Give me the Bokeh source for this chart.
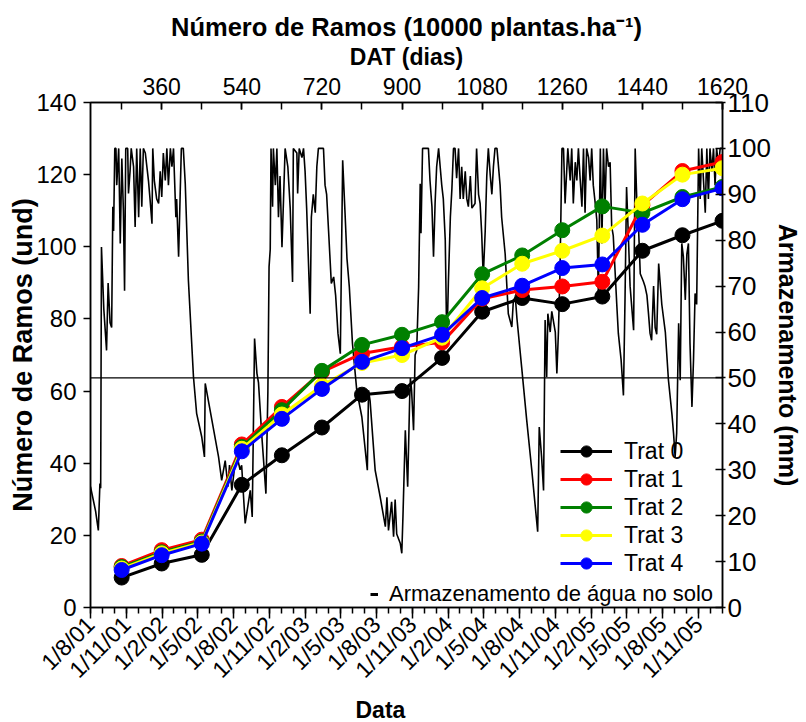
import math
from datetime import date

from bokeh.plotting import figure
from bokeh.models import Range1d, LinearAxis, FixedTicker, Span, Legend, LegendItem, Title
from bokeh.embed import file_html
from bokeh.resources import INLINE

FONTE = "Liberation Sans"

# Avaliações do número de ramos: dias após o transplantio (DAT)
dat = [270, 360, 450, 540, 630, 720, 810, 900, 990, 1080, 1170, 1260, 1350, 1440, 1530, 1620]

trat0 = [8.3, 12.2, 14.6, 34.0, 42.2, 49.9, 59.0, 60.0, 69.2, 82.0, 85.8, 84.1, 86.2, 98.9, 103.2, 107.2]
trat1 = [11.5, 15.9, 18.8, 45.2, 55.6, 65.3, 70.4, 72.3, 73.5, 85.6, 88.0, 89.0, 90.3, 111.5, 121.0, 123.5]
trat2 = [11.2, 15.3, 18.3, 44.5, 54.7, 65.6, 72.8, 75.6, 79.1, 92.4, 97.6, 104.6, 111.2, 109.4, 113.8, 116.6]
trat3 = [10.8, 15.0, 18.0, 44.0, 53.5, 61.5, 67.8, 70.0, 74.8, 88.5, 95.3, 98.9, 103.1, 112.0, 120.0, 121.8]
trat4 = [10.4, 14.5, 17.7, 43.3, 52.3, 60.6, 68.1, 71.9, 75.6, 85.8, 89.2, 94.1, 95.1, 106.1, 113.2, 116.2]

series = [
    ("Trat 0", trat0, "black"),
    ("Trat 1", trat1, "red"),
    ("Trat 2", trat2, "green"),
    ("Trat 3", trat3, "yellow"),
    ("Trat 4", trat4, "blue"),
]

# Armazenamento de água no solo: dias desde 01/08/2001 e lâmina armazenada (mm)
arm_dia = [
    0, 13, 20, 24, 26, 28, 34, 41, 45, 50, 54, 57, 59, 62, 65, 67, 72, 76, 80, 84,
    87, 90, 95, 97, 101, 104, 110, 114, 118, 123, 127, 131, 135, 140, 148, 152, 157, 159, 163, 169,
    174, 178, 182, 186, 191, 195, 199, 204, 208, 212, 218, 220, 225, 229, 232, 237, 242, 250, 263, 271,
    284, 291, 293, 310, 327, 335, 344, 351, 355, 361, 370, 374, 382, 386, 395, 408,
    413, 419, 425, 429, 437, 448, 453, 456, 459, 461, 465, 467, 472, 476, 480, 484, 489, 493, 497, 504,
    510, 516, 518, 527, 529, 533, 540, 544, 548, 552, 561, 564, 569, 574, 578, 582, 591, 595, 599, 603,
    608, 615, 621, 626, 632, 638, 644, 650, 655, 661, 669, 680, 693, 707, 710, 714, 727, 740, 753, 757,
    761, 769, 774, 778, 782, 791, 795, 798, 804, 810, 815, 817,
    820, 825, 829, 833, 838, 842, 844, 848, 863, 867, 872, 876, 880, 884, 889, 893, 897, 901, 906, 910,
    914, 919, 923, 927, 931, 935, 940, 944, 948, 952, 957, 961, 965, 970, 974, 982, 986, 991, 995, 999,
    1003, 1008, 1012, 1016, 1021, 1025, 1029, 1033, 1038, 1046, 1050, 1059, 1067, 1076, 1080, 1085, 1089, 1101, 1114, 1127,
    1142, 1146, 1152, 1157, 1161, 1165, 1168, 1174, 1178, 1187, 1191, 1195, 1199, 1204, 1208, 1212, 1219,
    1225, 1229, 1233, 1238, 1242, 1246, 1250, 1255, 1259, 1263, 1267, 1272, 1276, 1280, 1284, 1289, 1293, 1297, 1302, 1306,
    1310, 1314, 1318, 1323, 1327, 1331, 1335, 1340, 1344, 1348, 1355, 1361, 1365, 1369, 1374, 1378, 1387, 1391, 1395, 1399,
    1404, 1412, 1416, 1421, 1425, 1429, 1433, 1438, 1442, 1446, 1451, 1459, 1468, 1476, 1485, 1489, 1493, 1497, 1502, 1506,
    1510, 1514, 1519, 1523, 1527, 1531, 1536, 1540, 1544, 1548, 1553, 1557, 1561, 1570, 1574, 1578, 1582, 1587, 1591, 1595,
    1599, 1604, 1608, 1614,
]
arm_mm = [
    26.3, 21, 16.8, 27, 26, 78.5, 65, 56, 70.7, 62, 61, 87.3, 82, 100, 100, 92, 100, 79.3, 97.8, 86.5,
    69, 100, 100, 90.2, 95, 100, 96, 82.9, 100, 85, 100, 87.3, 100, 99, 93, 89, 83.6, 100, 93, 89,
    88, 95, 89.4, 99, 93, 100, 92, 100, 96, 100, 85, 89, 76.4, 90, 100, 100, 92.3, 71.3, 50.2, 42.3,
    37.2, 32.8, 48.8, 40.8, 32.8, 27.7, 32, 26.3, 31, 25.5, 32, 33, 30, 31, 18.3, 25.5,
    19.7, 58.6, 51, 49, 38, 24.8, 47, 74.2, 78, 100, 87.3, 100, 92, 100, 85, 94, 78.5, 89, 100, 96,
    87, 70.9, 100, 99, 90.2, 100, 98, 100, 95, 87, 64, 85, 90, 86, 96, 100, 100, 100, 92, 90,
    82, 70.6, 72, 68, 59.7, 55.3, 97.4, 86, 76, 69.8, 57.5, 47.3, 41.5, 29.9, 47.3, 45, 29.9, 24, 17.6, 24,
    16.8, 23, 15.4, 23.5, 16, 14, 11.8, 20, 38.6, 26.3, 45.2, 50,
    47.3, 38.6, 55, 56, 69.8, 92.3, 81.5, 100, 100, 93, 87.3, 76.4, 88, 96, 100, 96, 92, 89, 80, 56.8,
    71, 85, 91.3, 100, 100, 93.5, 100, 89, 96, 89, 95, 89, 87.3, 94, 87, 88, 100, 90, 88, 81.5,
    72, 82, 94, 100, 94, 90, 96, 100, 100, 92, 85, 77, 64, 61.1, 67, 67.5, 63, 52.4, 40.8, 29.9,
    16.5, 39.3, 32.8, 25.5, 62.6, 50.2, 64, 60, 64.5, 60, 51, 60, 73, 100, 100, 88, 100,
    93, 100, 88, 97, 93, 100, 94, 87.3, 100, 86, 100, 98, 93, 100, 92, 88, 84.4, 68.4, 100, 79.3,
    100, 87.3, 100, 96, 97, 83, 81, 72.7, 66, 59.7, 54, 46.2, 66.9, 91.6, 80, 70, 60.4, 100, 89, 84,
    72.7, 71, 70, 68, 64, 59.7, 58.2, 70, 61, 59.5, 74.9, 66, 60, 49.5, 42, 37.9, 32.8, 38, 61.9, 49.5,
    79.3, 76.5, 67, 77, 79.3, 57.5, 43.7, 54, 68.4, 66, 100, 89, 100, 86, 100, 89, 100, 95, 100, 92,
    100, 96, 100, 100,
]

# Nível de referência do armazenamento (mm)
arm_referencia = 50

# Rótulos do eixo de datas (a cada três meses)
rotulos_data = ["1/8/01", "1/11/01", "1/2/02", "1/5/02", "1/8/02", "1/11/02", "1/2/03", "1/5/03",
                "1/8/03", "1/11/03", "1/2/04", "1/5/04", "1/8/04", "1/11/04", "1/2/05", "1/5/05",
                "1/8/05", "1/11/05"]

inicio = date(2001, 8, 1)
fim = date(2006, 1, 1)


def dias(d):
    return (d - inicio).days


def parse_rotulo(txt):
    d, m, a = (int(v) for v in txt.split("/"))
    return date(2000 + a, m, d)


meses = []
ano, mes = inicio.year, inicio.month
while date(ano, mes, 1) <= fim:
    meses.append(dias(date(ano, mes, 1)))
    mes += 1
    if mes > 12:
        mes, ano = 1, ano + 1

ticks_data = [dias(parse_rotulo(t)) for t in rotulos_data]

p = figure(
    width=806, height=722,
    output_backend="svg", toolbar_location=None,
    x_range=Range1d(0, dias(fim)), y_range=Range1d(0, 140),
    min_border_left=90, min_border_right=84, min_border_top=102, min_border_bottom=115,
    background_fill_color="white", border_fill_color="white",
)
p.outline_line_color = "black"
p.outline_line_width = 1.5
p.xgrid.visible = False
p.ygrid.visible = False

p.extra_x_ranges = {"dat": Range1d(200, 1620)}
p.extra_y_ranges = {"arm": Range1d(0, 110)}

p.title.text = "Número de Ramos (10000 plantas.ha⁻¹)"
p.title.align = "center"
p.title.text_font = FONTE
p.title.text_font_size = "25.5px"
p.title.text_font_style = "bold"
p.title.text_color = "black"
p.title.standoff = 0

# Eixo inferior: datas
xa = p.xaxis[0]
xa.ticker = FixedTicker(ticks=ticks_data, minor_ticks=meses)
xa.major_label_overrides = {t: r for t, r in zip(ticks_data, rotulos_data)}
xa.major_label_orientation = math.pi / 4

# Eixo esquerdo: número de ramos
ya = p.yaxis[0]
ya.ticker = FixedTicker(ticks=list(range(0, 141, 20)))
ya.axis_label = "Número de Ramos (und)"

# Eixo superior: DAT
ta = LinearAxis(x_range_name="dat", axis_label="DAT (dias)",
                ticker=FixedTicker(ticks=[360, 540, 720, 900, 1080, 1260, 1440, 1620],
                                   minor_ticks=list(range(270, 1621, 90))))
p.add_layout(ta, "above")

# Eixo direito: armazenamento
ra = LinearAxis(y_range_name="arm", axis_label="Armazenamento (mm)",
                ticker=FixedTicker(ticks=list(range(0, 111, 10))))
p.add_layout(ra, "right")

for ax in (xa, ya, ta, ra):
    ax.axis_line_color = "black"
    ax.axis_line_width = 1.5
    ax.major_tick_line_color = "black"
    ax.major_tick_line_width = 1.5
    ax.minor_tick_line_color = "black"
    ax.minor_tick_line_width = 1.5
    ax.major_label_text_font = FONTE
    ax.major_label_text_color = "black"
    ax.axis_label_text_font = FONTE
    ax.axis_label_text_font_style = "bold"
    ax.axis_label_text_color = "black"

xa.major_label_text_font_size = "23px"
xa.major_tick_in, xa.major_tick_out = 0, 11
xa.minor_tick_in, xa.minor_tick_out = 0, 6
xa.major_label_standoff = 2

ya.major_label_text_font_size = "24px"
ya.axis_label_text_font_size = "27px"
ya.major_tick_in, ya.major_tick_out = 0, 7
ya.minor_tick_line_color = None
ya.major_label_standoff = 7
ya.axis_label_standoff = -5

ta.major_label_text_font_size = "23px"
ta.axis_label_text_font_size = "23px"
ta.major_tick_in, ta.major_tick_out = 7, 0
ta.minor_tick_in, ta.minor_tick_out = 7, 0
ta.major_label_standoff = 8
ta.axis_label_standoff = 5

ra.major_label_text_font_size = "26px"
ra.axis_label_text_font_size = "25px"
ra.major_tick_in, ra.major_tick_out = 7, 3
ra.minor_tick_line_color = None
ra.major_label_standoff = 2
ra.axis_label_standoff = 0

# Título do eixo de datas
p.add_layout(Title(text="Data", align="left", offset=265, text_font=FONTE,
                   text_font_size="23px", text_font_style="bold", text_color="black",
                   standoff=0), "below")

# Armazenamento de água no solo (eixo direito)
p.line(arm_dia, arm_mm, y_range_name="arm", line_color="black", line_width=1.6)
p.add_layout(Span(location=arm_referencia, dimension="width", y_range_name="arm",
                  line_color="black", line_width=1.2))

# Número de ramos por tratamento (eixo superior DAT, eixo esquerdo)
itens = []
for nome, valores, cor in series:
    ln = p.line(dat, valores, x_range_name="dat", line_color=cor, line_width=3)
    pt = p.scatter(dat, valores, x_range_name="dat", marker="circle", size=15,
                   fill_color=cor, line_color=cor)
    itens.append(LegendItem(label=nome, renderers=[ln, pt]))

leg = Legend(items=itens, location=(470, 30), orientation="vertical",
             glyph_width=52, glyph_height=28, label_height=20, spacing=0,
             label_standoff=12, padding=0, margin=0,
             label_text_font=FONTE, label_text_font_size="23px", label_text_color="black",
             background_fill_alpha=0, border_line_alpha=0)
p.add_layout(leg, "center")

# Marca da legenda do armazenamento (traço curto e espesso)
marca = p.line(arm_dia, arm_mm, y_range_name="arm", line_color="black", line_width=3,
               visible=False)
leg2 = Legend(items=[LegendItem(label="Armazenamento de água no solo", renderers=[marca])],
              location=(280, 0), glyph_width=8, glyph_height=20, label_height=20,
              label_standoff=11, padding=0, margin=0,
              label_text_font=FONTE, label_text_font_size="22px", label_text_color="black",
              inactive_fill_alpha=0,
              background_fill_alpha=0, border_line_alpha=0)
p.add_layout(leg2, "center")

open("out.html", "w").write(file_html(p, INLINE))
